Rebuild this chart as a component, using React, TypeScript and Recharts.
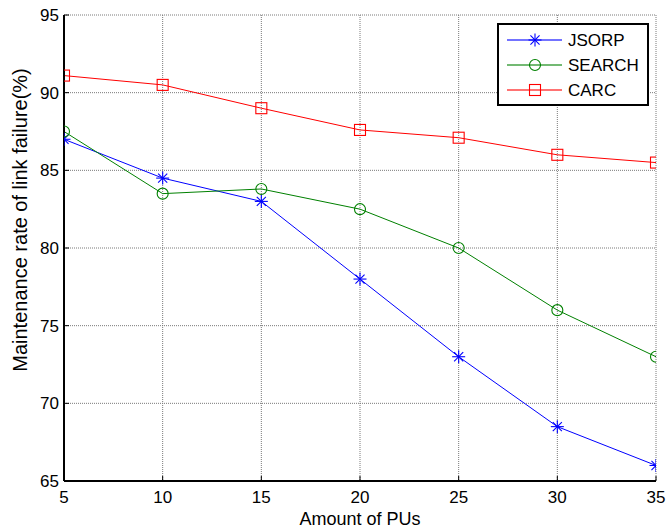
import React from 'react';
import { LineChart, Line, XAxis, YAxis, CartesianGrid, Legend, Label } from 'recharts';

const puAmounts = [5, 10, 15, 20, 25, 30, 35];
const jsorpValues = [87, 84.5, 83, 78, 73, 68.5, 66];
const searchValues = [87.5, 83.5, 83.8, 82.5, 80, 76, 73];
const carcValues = [91.1, 90.5, 89, 87.6, 87.1, 86, 85.5];
const xTicks = [5, 10, 15, 20, 25, 30, 35];
const yTicks = [65, 70, 75, 80, 85, 90, 95];
const seriesNames = ['JSORP', 'SEARCH', 'CARC'];
const seriesColors = ['#0000ff', '#008000', '#ff0000'];

const data = puAmounts.map((x, i) => ({
  x,
  jsorp: jsorpValues[i],
  search: searchValues[i],
  carc: carcValues[i],
}));

const FONT = '"Liberation Sans", Arial, Helvetica, sans-serif';

const StarMark = ({ cx, cy, color }: any) => {
  const r = 6.5;
  const d = r * 0.7;
  return (
    <g stroke={color} strokeWidth={1.1} fill="none">
      <line x1={cx - r} y1={cy} x2={cx + r} y2={cy} />
      <line x1={cx} y1={cy - r} x2={cx} y2={cy + r} />
      <line x1={cx - d} y1={cy - d} x2={cx + d} y2={cy + d} />
      <line x1={cx - d} y1={cy + d} x2={cx + d} y2={cy - d} />
    </g>
  );
};
const CircleMark = ({ cx, cy, color }: any) => (
  <circle cx={cx} cy={cy} r={5.5} stroke={color} strokeWidth={1.1} fill="none" />
);
const SquareMark = ({ cx, cy, color }: any) => (
  <rect x={cx - 5.5} y={cy - 5.5} width={11} height={11} stroke={color} strokeWidth={1.1} fill="none" />
);
const marks = [StarMark, CircleMark, SquareMark];

const LegendBox = () => (
  <div
    style={{
      width: 152,
      height: 83,
      border: '2px solid #000',
      background: '#fff',
      boxSizing: 'border-box',
    }}
  >
    <svg width={148} height={79} style={{ display: 'block' }}>
      {seriesNames.map((name, i) => {
        const M = marks[i];
        const y = 15 + i * 25;
        return (
          <g key={name}>
            <line x1={8} x2={63} y1={y} y2={y} stroke={seriesColors[i]} strokeWidth={2} strokeOpacity={0.55} />
            <M cx={36} cy={y} color={seriesColors[i]} />
            <text x={69} y={y} dy="0.36em" fontFamily={FONT} fontSize={17} fill="#000">
              {name}
            </text>
          </g>
        );
      })}
    </svg>
  </div>
);

const YLabel = (props: any) => {
  const vb = props.viewBox || { x: 0, y: 15, width: 64, height: 466 };
  const x = 27;
  const y = vb.y + vb.height / 2 - 28;
  return (
    <text
      x={x}
      y={y}
      transform={`rotate(-90, ${x}, ${y})`}
      textAnchor="middle"
      fontFamily={FONT}
      fontSize={20}
      fill="#000"
    >
      Maintenance rate of link failure(%)
    </text>
  );
};

export default function App() {
  return (
    <div style={{ position: 'absolute', left: 0, top: 0, background: '#fff' }}>
      <LineChart
        width={666}
        height={531}
        data={data}
        margin={{ top: 15, right: 10, bottom: 0, left: 0 }}
      >
        <CartesianGrid stroke="#7a7a7a" strokeDasharray="1 1" strokeWidth={1} verticalCoordinatesGenerator={undefined} />
        <XAxis
          dataKey="x"
          type="number"
          domain={[5, 35]}
          ticks={xTicks}
          height={50}
          axisLine={{ stroke: '#000', strokeWidth: 2 }}
          tickLine={{ stroke: '#000', strokeWidth: 1 }}
          tickSize={-5}
          tickMargin={15}
          tick={{ fill: '#000', fontSize: 17, fontFamily: FONT }}
          allowDataOverflow
        >
          <Label
            value="Amount of PUs"
            position="insideBottom"
            offset={6}
            style={{ fontFamily: FONT, fontSize: 18, fill: '#000' }}
          />
        </XAxis>
        <XAxis
          xAxisId="top"
          orientation="top"
          dataKey="x"
          type="number"
          domain={[5, 35]}
          ticks={xTicks}
          height={0}
          mirror
          tickSize={5}
          axisLine={{ stroke: '#000', strokeWidth: 2 }}
          tickLine={{ stroke: '#000', strokeWidth: 1 }}
          tickFormatter={() => ''}
        />
        <YAxis
          type="number"
          domain={[65, 95]}
          ticks={yTicks}
          width={64}
          axisLine={{ stroke: '#000', strokeWidth: 2 }}
          tickLine={{ stroke: '#000', strokeWidth: 1 }}
          tickSize={-5}
          tickMargin={10}
          tick={{ fill: '#000', fontSize: 17, fontFamily: FONT }}
          allowDataOverflow
          label={{ content: YLabel }}
        />
        <YAxis
          yAxisId="right"
          orientation="right"
          type="number"
          domain={[65, 95]}
          ticks={yTicks}
          width={0}
          mirror
          tickSize={5}
          axisLine={{ stroke: '#000', strokeWidth: 2 }}
          tickLine={{ stroke: '#000', strokeWidth: 1 }}
          tickFormatter={() => ''}
        />
        <Legend
          layout="horizontal"
          verticalAlign="middle"
          align="center"
          content={() => <LegendBox />}
          wrapperStyle={{ left: 497, top: 23, width: 152, height: 83, margin: 0, padding: 0 }}
        />
        <Line
          dataKey="jsorp"
          name="JSORP"
          stroke={seriesColors[0]}
          strokeWidth={1}
          isAnimationActive={false}
          dot={(p: any) => <StarMark key={`j${p.index}`} cx={p.cx} cy={p.cy} color={seriesColors[0]} />}
          activeDot={false}
        />
        <Line
          dataKey="search"
          name="SEARCH"
          stroke={seriesColors[1]}
          strokeWidth={1}
          isAnimationActive={false}
          dot={(p: any) => <CircleMark key={`s${p.index}`} cx={p.cx} cy={p.cy} color={seriesColors[1]} />}
          activeDot={false}
        />
        <Line
          dataKey="carc"
          name="CARC"
          stroke={seriesColors[2]}
          strokeWidth={1}
          isAnimationActive={false}
          dot={(p: any) => <SquareMark key={`c${p.index}`} cx={p.cx} cy={p.cy} color={seriesColors[2]} />}
          activeDot={false}
        />
      </LineChart>
    </div>
  );
}
